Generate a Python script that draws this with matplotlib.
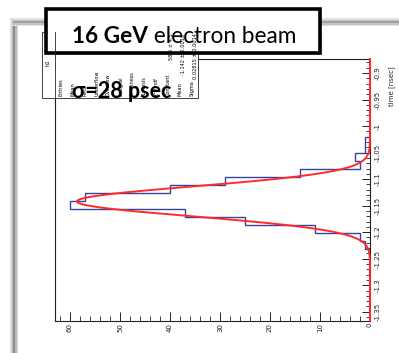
import numpy as np
import matplotlib
matplotlib.use("Agg")
import matplotlib.pyplot as plt
from matplotlib.patches import Rectangle
from matplotlib.ticker import MultipleLocator, FixedLocator, FuncFormatter

W, H = 399, 353

# h1: arrival time [nsec], 15 ps bins
bin_low = -1.231
bin_width = 0.015
counts = [1, 2, 11, 25, 37, 60, 57, 40, 29, 14, 2, 3, 1, 1]

# gaussian fit result
fit_constant = 58.6
fit_mean = -1.142
fit_sigma = 0.02815

count_ticks = [0, 10, 20, 30, 40, 50, 60]
time_ticks = [-1.35, -1.3, -1.25, -1.2, -1.15, -1.1, -1.05, -1.0, -0.95, -0.9]

title_bold = "16 GeV"
title_rest = " electron beam"
sigma_note = "σ=28 psec"
axis_title = "time [nsec]"
hist_name = "h1"

NARROW = ["Liberation Sans Narrow", "DejaVu Sans"]
SLIDE = ["Lato", "Open Sans", "DejaVu Sans"]

edges = bin_low + bin_width * np.arange(len(counts) + 1)


def gauss(t):
    return fit_constant * np.exp(-0.5 * ((t - fit_mean) / fit_sigma) ** 2)


stat_labels = ["Entries", "Mean", "RMS", "Underflow", "Overflow", "Integral",
               "Skewness", "Kurtosis", "χ² / ndf", "Constant", "Mean", "Sigma"]
fit_values = {"Constant": f"{fit_constant:.1f} ± 4.5",
              "Sigma": f"{fit_sigma:.5f} ± 0.0014"}
fit_mean_value = f"{fit_mean:.3f} ± 0.0018"

fig = plt.figure(figsize=(W / 100, H / 100), dpi=100)
fig.patch.set_facecolor("white")

# main frame (rotated histogram: time runs vertically, counts horizontally)
ax = fig.add_axes([55 / W, 1 - 321 / H, 315 / W, 262 / H])
ax.set_xlim(63, 0)
ax.set_ylim(-1.3675, -0.8735)

ax.stairs(counts, edges, orientation="horizontal", baseline=0,
          color="#34449c", lw=1.0, zorder=2)
tt = np.linspace(-1.3675, -0.8735, 600)
ax.plot(gauss(tt), tt, color="#ff2b2b", lw=1.4, zorder=4, clip_on=False)

for s in ax.spines.values():
    s.set_color("#222222")
    s.set_linewidth(0.8)

ax.xaxis.set_major_locator(FixedLocator(count_ticks))
ax.xaxis.set_minor_locator(MultipleLocator(2))
ax.xaxis.set_major_formatter(FuncFormatter(lambda v, p: f"{v:g}"))
ax.tick_params(axis="x", which="both", direction="in", top=False, bottom=True,
               labelbottom=True, labelrotation=90, pad=1.2, colors="#222222")
ax.tick_params(axis="x", which="major", length=6.5, width=0.7)
ax.tick_params(axis="x", which="minor", length=3.3, width=0.6)

ax.yaxis.set_major_locator(FixedLocator(time_ticks))
ax.yaxis.set_minor_locator(MultipleLocator(0.01))
ax.yaxis.set_major_formatter(FuncFormatter(lambda v, p: f"{round(v, 3):g}"))
ax.tick_params(axis="y", which="both", direction="in", left=False, right=True,
               labelleft=False, labelright=True, labelrotation=90, pad=3,
               colors="#222222")
ax.tick_params(axis="y", which="major", length=6, width=0.7)
ax.tick_params(axis="y", which="minor", length=3, width=0.6)

for lbl in ax.get_xticklabels() + ax.get_yticklabels():
    lbl.set_fontfamily(NARROW)
    lbl.set_fontsize(5)
for lbl in ax.get_yticklabels():
    lbl.set_va("center")

# overlay in pixel coordinates
ov = fig.add_axes([0, 0, 1, 1], zorder=10)
ov.set_xlim(0, W)
ov.set_ylim(H, 0)
ov.axis("off")
ov.patch.set_alpha(0)

# slide frame edges
for x0, x1, col in [(10, 18, "#dcdcdc"), (11.5, 16.5, "#b8b8b8"), (12.8, 15.2, "#8e8e8e")]:
    ov.add_patch(Rectangle((x0, 19 + (x0 - 10)), x1 - x0, H, color=col, lw=0))
for y0, y1, col in [(18, 26, "#e2e2e2"), (19.5, 24.5, "#c4c4c4"), (20.8, 23.2, "#a2a2a2")]:
    ov.add_patch(Rectangle((10 + (y0 - 18), y0), W, y1 - y0, color=col, lw=0))

ov.text(392, 66, axis_title, rotation=90, ha="center", va="top",
        fontsize=5, family=NARROW, color="#222222")

# statistics box
ov.add_patch(Rectangle((42, 32), 156, 66, facecolor="white", edgecolor="#222222", lw=0.6))
ov.plot([55, 55], [32, 98], color="#222222", lw=0.6)
ov.text(48.5, 63, hist_name, rotation=90, ha="center", va="center",
        fontsize=3.8, family=NARROW)
cols = np.linspace(61, 192, len(stat_labels))
for i, (x, lab) in enumerate(zip(cols, stat_labels)):
    ov.text(x, 96.5, lab, rotation=90, ha="center", va="bottom",
            fontsize=3.6, family=NARROW)
    if i == len(stat_labels) - 2:
        val = fit_mean_value
    else:
        val = fit_values.get(lab) if i >= 9 else None
    if val:
        ov.text(x + 3.5, 33.5, val, rotation=90, ha="center", va="top",
                fontsize=3.6, family=NARROW)

ov.text(72, 98, sigma_note, ha="left", va="baseline", fontsize=15.5,
        fontweight="bold", family=SLIDE, color="black")

# title box
ov.add_patch(Rectangle((48, 11), 274, 44, facecolor="#9a9a9a", lw=0, alpha=0.5))
ov.add_patch(Rectangle((46, 9), 274, 44, facecolor="white", edgecolor="black", lw=2.6))
t1 = ov.text(72, 43, title_bold, ha="left", va="baseline", fontsize=16.3,
             fontweight="bold", family=SLIDE, color="black")
fig.canvas.draw()
bb = t1.get_window_extent(fig.canvas.get_renderer())
x_end = ov.transData.inverted().transform((bb.x1, bb.y0))[0]
ov.text(x_end, 43, title_rest, ha="left", va="baseline", fontsize=16.3,
        family=SLIDE, color="black")

fig.savefig("out.png", dpi=100, facecolor="white")
